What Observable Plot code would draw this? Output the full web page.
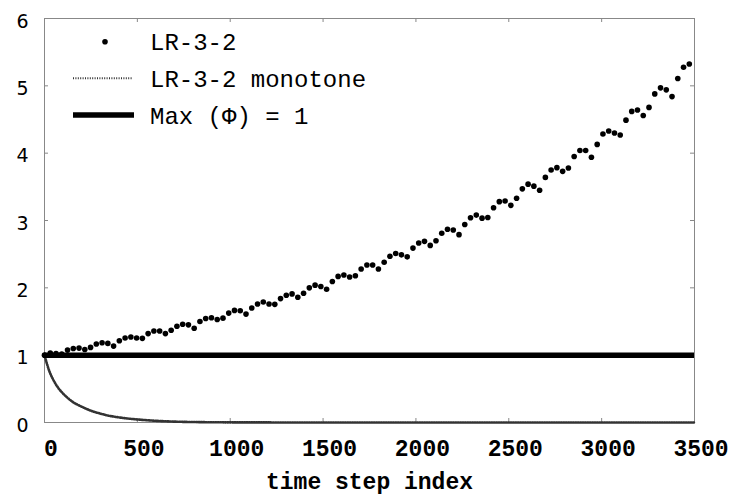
<!DOCTYPE html>
<html><head><meta charset="utf-8">
<script src="https://cdn.jsdelivr.net/npm/d3@7"></script>
<script src="https://cdn.jsdelivr.net/npm/@observablehq/plot@0.6"></script>
<style>body{margin:0;background:#fff}</style>
</head><body><div id="chart"></div>
<script>
// time step index of each LR-3-2 sample
const stepX = [
  0,31,62,93,124,155,186,217,248,279,
  310,341,372,403,434,465,496,527,558,589,
  620,651,682,713,744,775,806,837,868,899,
  930,961,992,1023,1054,1085,1116,1147,1178,1209,
  1240,1271,1302,1333,1364,1395,1426,1457,1488,1519,
  1550,1581,1612,1643,1674,1705,1736,1767,1798,1829,
  1860,1891,1922,1953,1984,2015,2046,2077,2108,2139,
  2170,2201,2232,2263,2294,2325,2356,2387,2418,2449,
  2480,2511,2542,2573,2604,2635,2666,2697,2728,2759,
  2790,2821,2852,2883,2914,2945,2976,3007,3038,3069,
  3100,3131,3162,3193,3224,3255,3286,3317,3348,3379,
  3410,3441,3472
];
// LR-3-2 values
const lrY = [
  1.00,1.03,1.025,1.015,1.075,1.10,1.105,1.085,1.115,1.165,
  1.185,1.175,1.135,1.215,1.255,1.27,1.255,1.25,1.32,1.36,
  1.36,1.32,1.37,1.43,1.46,1.45,1.40,1.50,1.545,1.555,
  1.53,1.55,1.625,1.665,1.66,1.61,1.70,1.76,1.79,1.76,
  1.755,1.84,1.89,1.91,1.86,1.92,2.00,2.04,2.02,1.98,
  2.095,2.17,2.19,2.16,2.18,2.28,2.34,2.34,2.28,2.38,
  2.47,2.51,2.49,2.46,2.59,2.665,2.69,2.63,2.70,2.81,
  2.87,2.86,2.79,2.94,3.04,3.08,3.035,3.045,3.19,3.28,
  3.29,3.225,3.33,3.47,3.54,3.51,3.45,3.64,3.75,3.785,
  3.73,3.78,3.95,4.04,4.04,3.94,4.13,4.285,4.33,4.30,
  4.27,4.49,4.62,4.64,4.56,4.68,4.88,4.97,4.94,4.84,
  5.11,5.275,5.325
];
// LR-3-2 monotone
const monoX = [0,25,50,75,100,150,200,250,300,350,400,450,500,600,700,800,900,1000,1250,1500,2000,2500,3000,3500];
const monoY = [1,0.77,0.62,0.51,0.43,0.31,0.235,0.175,0.132,0.099,0.076,0.058,0.045,0.025,0.013,0.007,0.004,0.002,0.001,0,0,0,0,0];
// Max (Phi)
const maxPhi = 1;
const xTicks = [0,500,1000,1500,2000,2500,3000,3500];
const yTicks = [0,1,2,3,4,5,6];
const legendLabels = ["LR-3-2", "LR-3-2 monotone", "Max (\u03A6) = 1"];
const xLabel = "time step index";

const W = 732, H = 495, mL = 44, mR = 38, mT = 18, mB = 73;
const innerW = W - mL - mR, innerH = H - mT - mB;
const monoFont = "'Liberation Mono', 'Courier New', monospace";
const lr = stepX.map((x, i) => ({x, y: lrY[i]}));
const mono = monoX.map((x, i) => ({x, y: monoY[i]}));
const fmt = d => String(d);

const chart = Plot.plot({
  width: W, height: H,
  marginLeft: mL, marginRight: mR, marginTop: mT, marginBottom: mB,
  style: {background: "white", color: "black"},
  x: {domain: [0, 3500]},
  y: {domain: [0, 6]},
  marks: [
    Plot.ruleX(xTicks, {stroke: "#888", insetTop: innerH - 4}),
    Plot.ruleX(xTicks, {stroke: "#888", insetBottom: innerH - 4}),
    Plot.ruleY(yTicks, {stroke: "#888", insetRight: innerW - 4}),
    Plot.ruleY(yTicks, {stroke: "#888", insetLeft: innerW - 4}),
    Plot.frame({stroke: "#888"}),
    Plot.line(mono, {x: "x", y: "y", stroke: "#333", strokeWidth: 2.6, strokeDasharray: "1,1.4", curve: "monotone-x"}),
    Plot.ruleY([maxPhi], {stroke: "black", strokeWidth: 5.5}),
    Plot.dot(lr, {x: "x", y: "y", r: 2.8, fill: "black", stroke: "none"}),
    Plot.axisX(xTicks, {tickSize: 0, tickPadding: 17, fontSize: 23, fontFamily: monoFont, fontWeight: "bold", dx: 6.5, tickFormat: fmt, label: null}),
    Plot.axisY(yTicks, {tickSize: 0, tickPadding: 16, fontSize: 19, fontFamily: "'DejaVu Sans', Verdana, sans-serif", dy: 3, tickFormat: fmt, label: null}),
    Plot.text([xLabel], {frameAnchor: "bottom", dy: 66, fontSize: 23, fontFamily: monoFont, fontWeight: "bold", fill: "black"})
  ]
});
document.getElementById("chart").appendChild(chart);

// legend inside the plot area (top-left)
const svg = d3.select(chart);
const lg = svg.append("g").attr("class", "legend").attr("text-anchor", "start");
lg.append("circle").attr("cx", 105).attr("cy", 41.7).attr("r", 2.8).attr("fill", "black");
lg.append("line").attr("x1", 73).attr("x2", 133).attr("y1", 78.3).attr("y2", 78.3)
  .attr("stroke", "#333").attr("stroke-width", 2).attr("stroke-dasharray", "1,1.4");
lg.append("line").attr("x1", 73).attr("x2", 134).attr("y1", 115).attr("y2", 115)
  .attr("stroke", "black").attr("stroke-width", 5.5);
const baselines = [50, 86.7, 124];
legendLabels.forEach((t, i) => {
  lg.append("text").attr("x", 150).attr("y", baselines[i])
    .attr("text-anchor", "start")
    .attr("font-family", monoFont).attr("font-size", 24).attr("fill", "black")
    .text(t);
});
</script>
</body></html>
